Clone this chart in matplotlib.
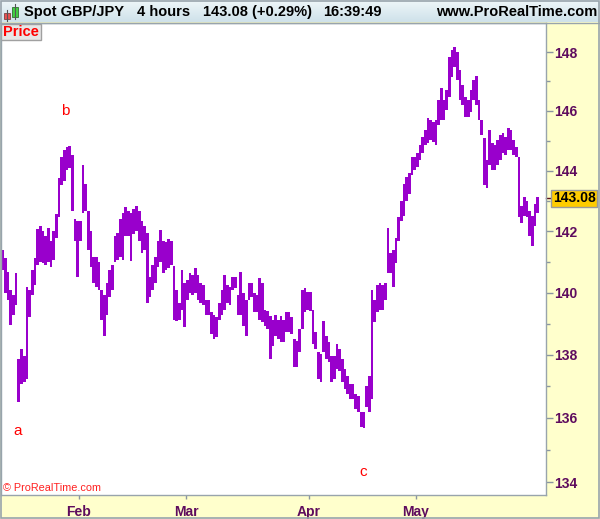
import numpy as np
import pandas as pd
import matplotlib
matplotlib.use('Agg')
import matplotlib.pyplot as plt
from matplotlib.patches import Rectangle
from matplotlib.ticker import NullFormatter
import matplotlib.transforms as mtransforms

plt.rcParams['font.family'] = ['Liberation Sans', 'DejaVu Sans']

# trading days shown (4h bars summarised as half-day high/low ranges)
days = pd.bdate_range('2017-01-11', '2017-05-31')

highs = [
    141.37, 141.11, 140.66, 140.08, 139.92, 140.62, 137.86, 138.20, 137.95, 140.18,
    140.08, 140.72, 141.11, 142.08, 142.18, 142.02, 141.85, 142.12, 141.69, 142.02,
    142.58, 143.74, 144.45, 144.69, 144.79, 144.83, 144.52, 142.41, 142.35, 142.35,
    144.18, 143.57, 142.68, 142.02, 141.14, 141.14, 140.98, 140.08, 139.92, 140.31,
    140.72, 140.88, 141.85, 141.95, 142.41, 142.61, 142.78, 142.68, 142.61, 142.74,
    142.84, 142.68, 142.35, 142.18, 141.95, 140.50, 140.88, 141.14, 141.69, 142.05,
    141.69, 141.63, 141.76, 141.69, 140.85, 140.08, 139.67, 140.72, 140.31, 140.40,
    140.62, 140.56, 140.79, 140.56, 140.31, 140.24, 139.77, 139.77, 139.36, 139.29,
    139.20, 139.67, 140.08, 140.56, 140.24, 140.18, 140.50, 140.50, 139.92, 140.66,
    139.99, 139.77, 140.31, 140.31, 139.99, 139.92, 140.47, 140.31, 139.45, 139.39,
    139.23, 139.13, 139.29, 139.13, 139.23, 139.13, 139.36, 139.36, 139.20, 138.49,
    138.43, 138.81, 140.08, 140.15, 140.02, 140.02, 139.45, 138.72, 138.08, 138.01,
    139.07, 138.59, 138.40, 137.95, 137.95, 138.33, 138.17, 137.86, 137.54, 137.32,
    137.07, 137.07, 136.75, 136.69, 136.19, 136.19, 137.00, 137.32, 140.08, 139.77,
    140.24, 140.31, 140.24, 140.31, 142.12, 141.27, 141.37, 141.79, 142.45, 143.01,
    143.57, 143.78, 143.91, 144.45, 144.45, 144.59, 144.86, 145.13, 145.36, 145.76,
    145.69, 145.63, 145.69, 146.37, 146.78, 146.37, 146.71, 147.83, 148.07, 148.17,
    148.00, 147.39, 146.88, 146.47, 146.37, 146.71, 147.05, 147.18, 146.37, 145.69,
    145.10, 144.35, 145.36, 144.93, 144.86, 145.03, 145.19, 145.26, 145.13, 145.42,
    145.36, 145.03, 144.79, 144.45, 142.84, 143.11, 143.01, 142.68, 142.51, 142.91,
    143.11,
]

lows = [
    140.72, 139.99, 139.77, 138.97, 139.29, 139.61, 136.50, 137.07, 137.13, 137.23,
    139.20, 139.92, 140.24, 140.88, 140.98, 140.95, 140.88, 140.98, 140.82, 141.05,
    141.79, 142.45, 143.51, 143.67, 144.01, 144.08, 142.68, 141.69, 140.50, 141.69,
    142.61, 142.68, 141.37, 140.82, 140.31, 140.18, 140.08, 139.13, 138.59, 139.29,
    139.86, 140.08, 140.98, 141.05, 141.14, 141.05, 141.85, 141.85, 141.01, 141.92,
    142.02, 141.69, 141.27, 141.37, 139.67, 139.86, 140.08, 140.31, 140.82, 140.98,
    140.62, 140.72, 140.79, 140.88, 139.13, 139.07, 139.13, 139.45, 138.88, 139.77,
    139.99, 139.92, 139.99, 139.77, 139.67, 139.61, 139.29, 139.29, 138.65, 138.49,
    138.56, 139.13, 139.29, 139.45, 139.67, 139.61, 140.08, 140.15, 139.29, 139.29,
    138.91, 138.59, 139.77, 139.86, 139.36, 139.36, 139.13, 139.04, 138.91, 138.81,
    137.86, 138.27, 138.59, 138.49, 138.40, 138.40, 138.72, 138.72, 138.65, 137.60,
    137.60, 138.08, 138.81, 139.36, 139.45, 139.39, 138.33, 138.17, 137.23, 137.13,
    138.08, 137.86, 137.76, 137.13, 137.23, 137.54, 137.48, 137.13, 136.91, 136.75,
    136.59, 136.59, 136.28, 136.19, 135.72, 135.69, 136.34, 136.19, 136.59, 139.04,
    139.36, 139.45, 139.45, 139.77, 140.62, 140.62, 140.18, 140.95, 141.69, 142.35,
    142.51, 143.01, 143.24, 143.84, 144.01, 144.11, 144.35, 144.59, 144.86, 144.93,
    145.03, 144.96, 144.86, 145.53, 145.69, 145.69, 146.03, 146.47, 147.15, 147.49,
    147.05, 146.37, 146.20, 145.79, 145.79, 145.96, 146.37, 146.20, 145.69, 145.19,
    143.51, 143.41, 144.18, 144.01, 144.01, 144.18, 144.35, 144.59, 144.52, 144.69,
    144.69, 144.52, 144.45, 142.45, 142.28, 142.51, 142.45, 141.85, 141.53, 142.18,
    142.61,
]

last_price = 143.08
price_ticks = [134, 136, 138, 140, 142, 144, 146, 148]
minor_ticks = [135, 137, 139, 141, 143, 145, 147]

# half-day slots, starting with the second half of the first day
x = np.arange(1, len(highs) + 1) * 0.5 + 0.25
month_pos = [i for i in range(1, len(days)) if days[i].month != days[i - 1].month]
month_lab = [days[i].strftime('%b') for i in month_pos]

W, H = 600, 519
fig = plt.figure(figsize=(W / 100, H / 100), dpi=100)
fig.patch.set_facecolor('#ffffcc')

ax = fig.add_axes([1 / W, 24 / H, 545 / W, 472 / H])
ax.set_facecolor('white')
hi = np.array(highs)
lo = np.array(lows)
ax.bar(x, hi - lo, bottom=lo, width=0.5, color='#9900cc', linewidth=0,
       antialiased=False)

ax.set_yscale('log')
ax.set_ylim(133.6, 149.0)
ax.set_xlim(0.42, 102.3)
ax.yaxis.tick_right()
ax.set_yticks(price_ticks)
ax.set_yticklabels([str(t) for t in price_ticks])
ax.set_yticks(minor_ticks, minor=True)
ax.yaxis.set_minor_formatter(NullFormatter())
ax.set_xticks(month_pos)
ax.set_xticklabels(month_lab)
ax.tick_params(axis='y', which='major', length=5, width=1, color='#8a96a0',
               pad=1, labelsize=10, labelcolor='#5e0c5e')
ax.tick_params(axis='y', which='minor', length=3, width=1, color='#8a96a0')
ax.tick_params(axis='x', length=3, width=1, color='#8a96a0', pad=4,
               labelsize=10, labelcolor='#5e0c5e')
for lab in ax.get_xticklabels() + ax.get_yticklabels():
    lab.set_fontweight('bold')
for sp in ax.spines.values():
    sp.set_color('#98a4ac')
    sp.set_linewidth(1)

# wave labels
wave = dict(color='#ff0000', fontsize=11, ha='center', va='center')
ax.text(3.6, 135.6, 'a', **wave)
ax.text(12.4, 146.0, 'b', **wave)
ax.text(68.1, 134.3, 'c', **wave)

# last price marker on the right scale
trans = mtransforms.blended_transform_factory(ax.transAxes, ax.transData)
ax.plot([1.0, 1.009], [last_price, last_price], transform=trans, color='#5a1020',
        lw=1, clip_on=False)
ax.text(1.0125, last_price, f'{last_price:.2f}', transform=trans, ha='left', va='center',
        fontsize=10, fontweight='bold', color='black', clip_on=False,
        bbox=dict(boxstyle='square,pad=0.12', facecolor='#ffcc00', edgecolor='#9a9a9a', lw=1))

# decorations in pixel coordinates
deco = fig.add_axes([0, 0, 1, 1], zorder=10)
deco.patch.set_alpha(0)
deco.axis('off')
grad = np.linspace(0, 1, 22)[:, None] * np.ones((1, 2))
deco.imshow(grad, extent=(0, W, 22, 0), aspect='auto',
            cmap=matplotlib.colors.LinearSegmentedColormap.from_list('hdr', ['#eef6f9', '#cfe2ea']))
deco.plot([0, W], [22.5, 22.5], color='#98a4ac', lw=1)
deco.set_xlim(0, W)
deco.set_ylim(H, 0)

# candle icon
deco.plot([6.5, 6.5], [10, 21], color='#555555', lw=0.8)
deco.add_patch(Rectangle((3.5, 12.5), 6, 6.5, facecolor='#e85050', edgecolor='#804040', lw=0.6))
deco.plot([14.5, 14.5], [4, 19], color='#555555', lw=0.8)
deco.add_patch(Rectangle((11.5, 6.5), 6, 10.5, facecolor='#40d040', edgecolor='#307030', lw=0.6))

hdr = dict(fontsize=10.5, fontweight='bold', color='black', va='center')
deco.text(24, 12, 'Spot GBP/JPY', ha='left', **hdr)
deco.text(137, 12, '4 hours', ha='left', **hdr)
deco.text(203, 12, '143.08 (+0.29%)', ha='left', **hdr)
deco.text(323, 12, '16:39:49', ha='left', **hdr)
deco.text(597, 12, 'www.ProRealTime.com', ha='right', **hdr)

deco.add_patch(Rectangle((1, 23.5), 40, 16.5, facecolor='#e6e6e6', edgecolor='#a0a0a0', lw=1))
deco.text(3.5, 32, 'Price', ha='left', va='center', fontsize=10.5, fontweight='bold',
          color='#ff0000')
deco.text(3, 493, '\u00a9 ProRealTime.com', ha='left', va='bottom', fontsize=7.8,
          color='#ff2020')

deco.add_patch(Rectangle((0.5, 0.5), W - 1.5, H - 1.5, fill=False, edgecolor='#98a4ac', lw=1.2))

fig.savefig('out.png', dpi=100, facecolor=fig.get_facecolor())
